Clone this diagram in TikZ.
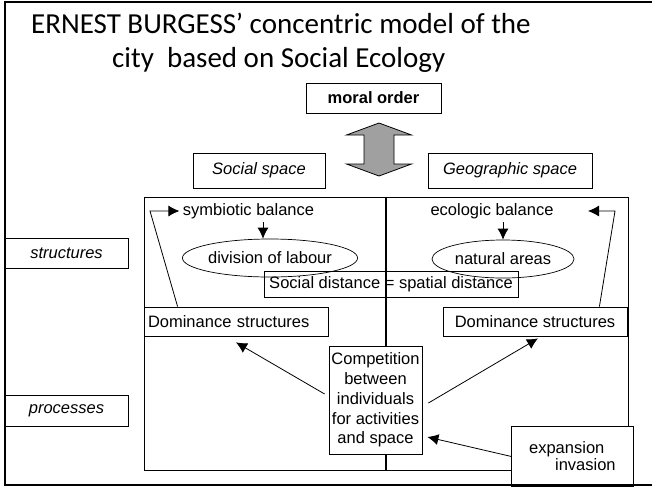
\documentclass[tikz,border=0pt]{standalone}
\usepackage{fontspec}
\setmainfont{Liberation Sans}
\newfontfamily\titlefont{Carlito}
\usetikzlibrary{shapes.geometric,arrows.meta}
\newcommand\bodysize{\fontsize{16.5}{19}\selectfont}
\definecolor{arrowgray}{HTML}{A0A0A0}
\begin{document}
\begin{tikzpicture}[x=1pt,y=-1pt,
        font=\bodysize,
        box/.style={draw,line width=0.8pt,fill=white,inner sep=2pt},
        oval/.style={draw,ellipse,line width=0.7pt,inner sep=0pt,minimum width=142pt,minimum height=38pt},
        arr/.style={line width=0.8pt,-{Latex[length=11pt,width=11pt]}}]
            \useasboundingbox (0,0) rectangle (652,488);

            \node[anchor=base west,inner sep=0pt,font=\titlefont\fontsize{29}{35}\selectfont] (title1) at (31,33) {ERNEST BURGESS’ concentric model of the};
            \node[anchor=base west,inner sep=0pt,font=\titlefont\fontsize{29}{35}\selectfont] (title2) at (112,67) {city\ \ based on Social Ecology};

            \node[box,minimum width=135pt,minimum height=30pt,font=\bodysize\bfseries] (moral) at (373.5,98) {moral order};
            \draw[line width=0.8pt,fill=arrowgray] (379,123) -- (411.5,135) -- (394,135) -- (394,164) -- (411.5,164) -- (379,176)
                -- (346.5,164) -- (364,164) -- (364,135) -- (346.5,135) -- cycle;
            \node[box,minimum width=132pt,minimum height=35pt,font=\bodysize\itshape] (soc) at (259,170.5) {Social space};
            \node[box,minimum width=164pt,minimum height=35pt,font=\bodysize\itshape] (geo) at (510,170.5) {Geographic space};

            \node[draw,line width=0.8pt,minimum width=484pt,minimum height=273pt] (main) at (386,333.5) {};
            \draw[line width=1.6pt] (main.north) -- (main.south);

            \node[box,minimum width=123pt,minimum height=30pt,font=\bodysize\itshape] (struct) at (66.5,253) {structures};
            \node[box,minimum width=123pt,minimum height=31pt,font=\bodysize\itshape] (proc) at (66.5,410.5) {processes};

            \node (sym) at (248.5,211) {symbiotic balance};
            \node (eco) at (492,211) {ecologic balance};
            \node[oval] (div) at (270,258) {division of labour};
            \node[oval] (nat) at (503,259) {natural areas};
            \draw[arr] ([xshift=-7pt]div.north |- sym.south) -- ([xshift=-7pt]div.north);
            \draw[arr] (nat.north |- eco.south) -- (nat.north);

            \node[draw,line width=0.8pt,minimum width=254pt,minimum height=26pt,inner sep=2pt] (dist) at (391,284) {Social distance = spatial distance};

            \node[box,text width=176pt,align=left,inner xsep=4pt,minimum height=29pt] (domL) at (236,321.5) {Dominance structures};
            \node[box,minimum width=184pt,minimum height=29pt] (domR) at (535,321.5) {Dominance structures};

            \coordinate (kL) at (150,211);
            \coordinate (kR) at (615,211);
            \coordinate (kR2) at (588,211);
            \draw[arr] ([xshift=34pt]domL.north west) -- (kL) -- (sym.west);
            \draw[arr] ([xshift=-28pt]domR.north east) -- (kR) -- (kR2);

            \node[box,align=center,inner sep=1pt,minimum width=93pt,minimum height=108pt,font=\fontsize{16.5}{19.8}\selectfont] (comp) at (375.5,400)
                {Competition\\between\\individuals\\for activities\\and space};
            \node[box,align=left,anchor=north west,minimum width=122pt,minimum height=60pt,font=\fontsize{16.5}{17}\selectfont] (exp) at (511,426)
                {expansion\\\hspace*{26pt}invasion};

            \draw[arr] ([xshift=-4pt,yshift=6pt]comp.west) -- ([yshift=-6pt]domL.south);
            \draw[arr] ([xshift=6pt,yshift=-3pt]comp.east) -- ([xshift=3pt,yshift=-2pt]domR.south);
            \draw[arr] (exp.west) -- ([xshift=5pt,yshift=-37pt]comp.east);

            \draw[line width=2.5pt] (652,2) -- (5,2) -- (5,485) -- (652,485);
        \end{tikzpicture}
\end{document}
